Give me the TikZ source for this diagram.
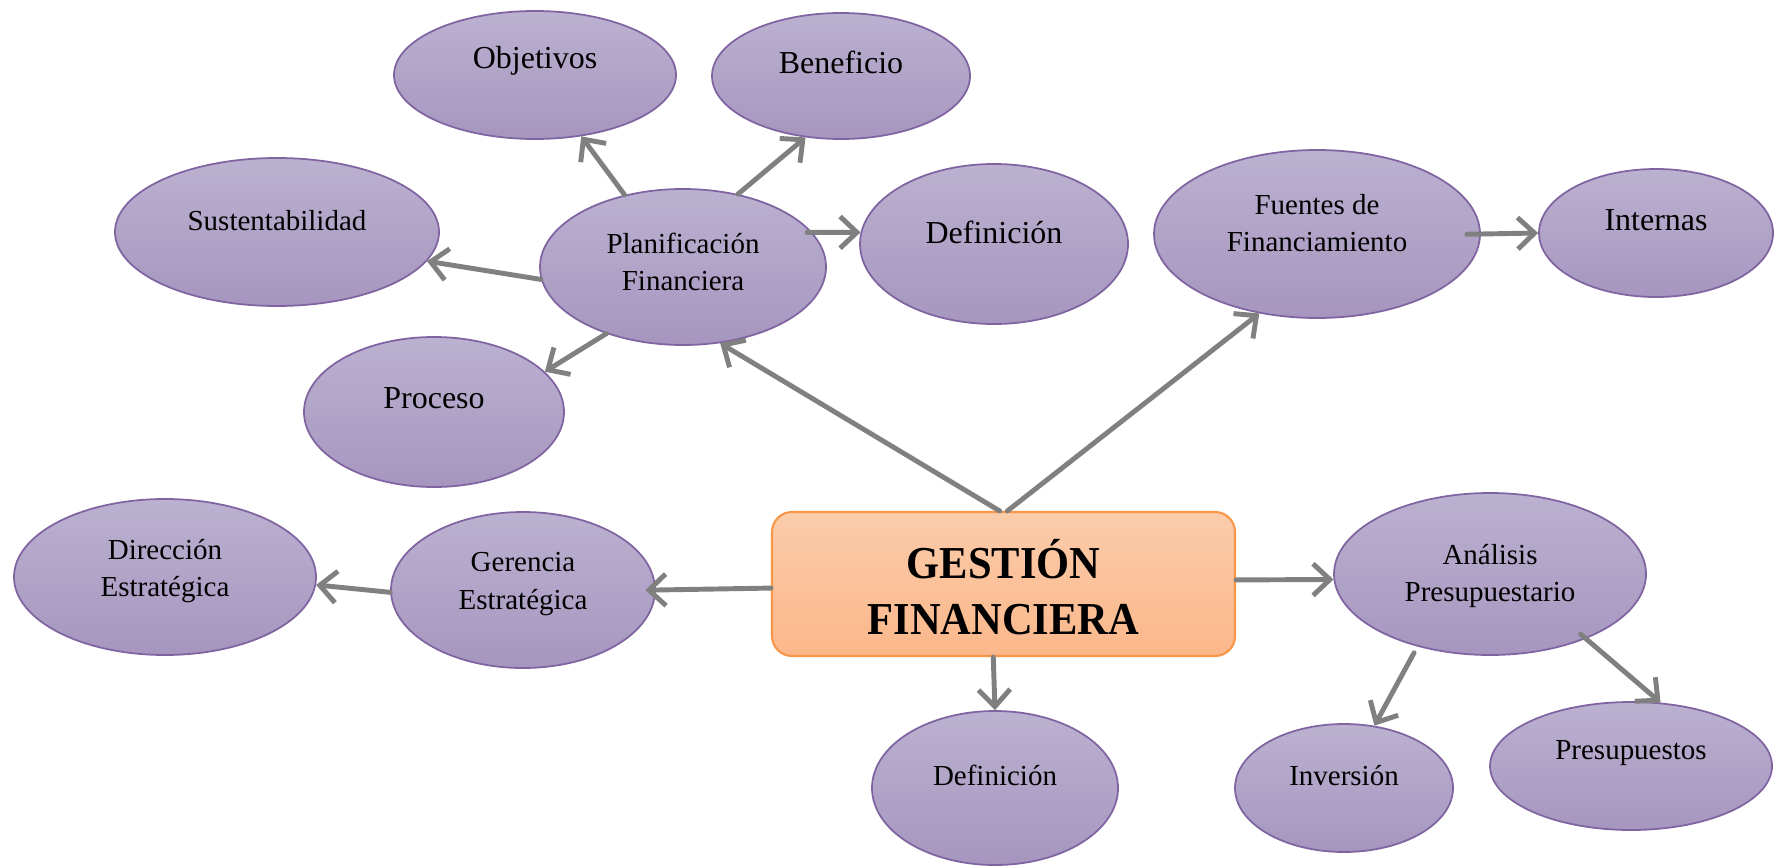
\documentclass[tikz,border=0pt]{standalone}
\usepackage{fontspec}
\setmainfont{Liberation Serif}
\usetikzlibrary{arrows.meta,shapes.geometric}
\definecolor{lilatop}{RGB}{187,177,208}
\definecolor{lilabot}{RGB}{166,150,191}
\definecolor{lilaline}{RGB}{128,100,162}
\definecolor{naranjatop}{RGB}{251,204,171}
\definecolor{naranjabot}{RGB}{251,183,138}
\definecolor{naranjaline}{RGB}{247,150,70}
\definecolor{flecha}{RGB}{128,128,128}
\begin{document}
\begin{tikzpicture}[line join=round, line cap=round,
    bub/.style={ellipse, draw=lilaline, line width=0.5pt, top color=lilatop, bottom color=lilabot, inner sep=0pt},
    txt/.style={align=center, font=\fontsize{8.25}{10.7}\selectfont},
    txtb/.style={align=center, font=\fontsize{9.1}{11}\selectfont},
    fl/.style={draw=flecha, line width=1.4pt, -{Straight Barb[length=4.8pt,width=9pt]}}]
    \useasboundingbox (0,0) rectangle (17.85,8.65);
    %\draw[color=gray!50,dashed] (0,0) grid (17.85,8.65);
    % elipses
    \node[bub, minimum width=2.82cm, minimum height=1.28cm] (obj) at (5.35,7.90) {};
    \node[bub, minimum width=2.58cm, minimum height=1.26cm] (ben) at (8.41,7.89) {};
    \node[bub, minimum width=3.24cm, minimum height=1.48cm] (sus) at (2.77,6.33) {};
    \node[bub, minimum width=2.86cm, minimum height=1.56cm] (plan) at (6.83,5.98) {};
    \node[bub, minimum width=2.68cm, minimum height=1.60cm] (defa) at (9.94,6.21) {};
    \node[bub, minimum width=3.26cm, minimum height=1.68cm] (fuen) at (13.17,6.31) {};
    \node[bub, minimum width=2.34cm, minimum height=1.28cm] (int) at (16.56,6.32) {};
    \node[bub, minimum width=2.60cm, minimum height=1.50cm] (proc) at (4.34,4.53) {};
    \node[bub, minimum width=3.02cm, minimum height=1.56cm] (dir) at (1.65,2.88) {};
    \node[bub, minimum width=2.64cm, minimum height=1.56cm] (ger) at (5.23,2.75) {};
    \node[bub, minimum width=3.12cm, minimum height=1.62cm] (ana) at (14.90,2.91) {};
    \node[bub, minimum width=2.46cm, minimum height=1.54cm] (defb) at (9.95,0.77) {};
    \node[bub, minimum width=2.18cm, minimum height=1.28cm] (inv) at (13.44,0.77) {};
    \node[bub, minimum width=2.82cm, minimum height=1.28cm] (pres) at (16.31,0.99) {};
    % recuadro central
    \node[draw=naranjaline, line width=0.6pt, rounded corners=0.2cm, top color=naranjatop, bottom color=naranjabot,
          minimum width=4.63cm, minimum height=1.44cm] (gest) at (10.035,2.81) {};
    % textos
    \node[txtb] (obj-t) at (5.35,8.04) {Objetivos};
    \node[txtb] (ben-t) at (8.41,8.03) {Beneficio};
    \node[txt] (sus-t) at (2.77,6.44) {Sustentabilidad};
    \node[txt] (plan-t) at (6.83,6.03) {Planificación\\Financiera};
    \node[txtb] (defa-t) at (9.94,6.33) {Definición};
    \node[txt] (fuen-t) at (13.17,6.42) {Fuentes de\\Financiamiento};
    \node[txtb] (int-t) at (16.56,6.45) {Internas};
    \node[txtb] (proc-t) at (4.34,4.67) {Proceso};
    \node[txt] (dir-t) at (1.65,2.94) {Dirección\\Estratégica};
    \node[txt] (ger-t) at (5.23,2.81) {Gerencia\\Estratégica};
    \node[txt] (ana-t) at (14.90,2.89) {Análisis\\Presupuestario};
    \node[txt] (defb-t) at (9.95,0.90) {Definición};
    \node[txt] (inv-t) at (13.44,0.89) {Inversión};
    \node[txt] (pres-t) at (16.31,1.12) {Presupuestos};
    \node[align=center, font=\fontsize{13}{15.8}\selectfont\bfseries, xscale=0.93, transform shape] (gest-t) at (10.035,2.78) {GESTIÓN\\FINANCIERA};
    % flechas
    \draw[fl] (plan.129) -- (obj.307);
    \draw[fl] (plan.53) -- (ben.240);
    \draw[fl] (plan.185) -- (sus.349);
    \draw[fl, shorten <=-1.5pt] (plan.15) -- (defa.175);
    \draw[fl] (plan.221) -- (proc.20);
    \draw[fl] (gest.93) -- (plan.296);
    \draw[fl] (gest.87) -- (fuen.234);
    \draw[fl, shorten <=-4pt] (fuen.east) -- (int.west);
    \draw[fl, shorten >=-3pt] (gest.181) -- (ger.east);
    \draw[fl] (ger.181) -- (dir.357);
    \draw[fl] (gest.1) -- (ana.182);
    \draw[fl] (gest.262) -- (defb.north);
    \draw[fl, shorten <=2pt] (ana.225) -- (inv.64);
    \draw[fl, shorten <=-2pt] (ana.326) -- (pres.65);
\end{tikzpicture}
\end{document}
